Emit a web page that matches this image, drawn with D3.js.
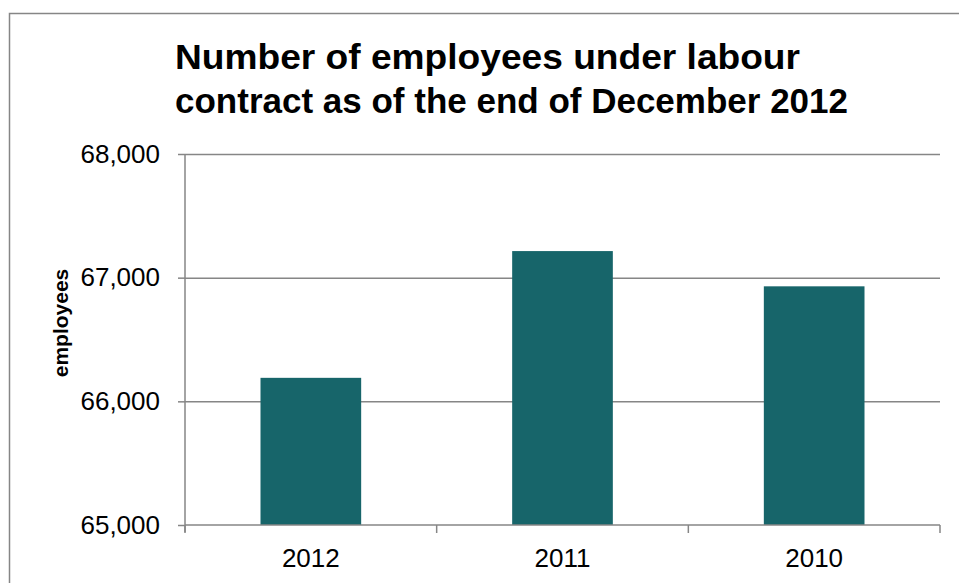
<!DOCTYPE html>
<html>
<head>
<meta charset="utf-8">
<script src="https://cdn.jsdelivr.net/npm/d3@7"></script>
<style>
  html, body { margin: 0; padding: 0; background: #fff; }
  svg { display: block; font-family: "Liberation Sans", Arial, sans-serif; }
</style>
</head>
<body>
<svg id="chart" width="959" height="583"></svg>
<script>
// Employees under labour contract, end of December
const years = ["2012", "2011", "2010"];
const employees = [66190, 67215, 66930];
const yTicks = [65000, 66000, 67000, 68000];
const titleLines = ["Number of employees under labour", "contract as of the end of December 2012"];
const yLabel = "employees";

const svg = d3.select("#chart");
const plot = { left: 185, right: 940, top: 154, bottom: 525 };
const gridColor = "#868686";
const barColor = "#17656A";

// outer chart frame (extends past the right and bottom edges)
svg.append("rect")
  .attr("x", 9.5).attr("y", 13.5)
  .attr("width", 1000).attr("height", 1000)
  .attr("fill", "#fff")
  .attr("stroke", gridColor).attr("stroke-width", 1.5);

// title
const titleWidths = [625, 673];
svg.append("g").selectAll("text").data(titleLines).join("text")
  .attr("x", 175)
  .attr("y", (d, i) => 69 + i * 44)
  .attr("font-size", 35)
  .attr("font-weight", "bold")
  .attr("fill", "#000")
  .attr("textLength", (d, i) => titleWidths[i])
  .attr("lengthAdjust", "spacingAndGlyphs")
  .text(d => d);

const x = d3.scaleBand().domain(years)
  .range([plot.left, plot.right]).paddingInner(0.6).paddingOuter(0.3);
const y = d3.scaleLinear().domain([65000, 68000]).range([plot.bottom, plot.top]);

// horizontal gridlines with tick marks
const yAxis = d3.axisLeft(y).tickValues(yTicks).tickSize(7).tickPadding(18)
  .tickFormat(d3.format(","));
const gy = svg.append("g").attr("transform", `translate(${plot.left},0)`).call(yAxis);
gy.select(".domain").remove();
gy.selectAll(".tick line").attr("stroke", gridColor).attr("stroke-width", 1.5);
gy.selectAll(".tick text")
  .attr("font-size", 26).attr("fill", "#000")
  .attr("font-family", "Liberation Sans, Arial, sans-serif");
gy.selectAll(".tick").filter(d => d !== 65000).append("line")
  .attr("x1", 0).attr("x2", plot.right - plot.left)
  .attr("stroke", gridColor).attr("stroke-width", 1.5);

// vertical axis line
svg.append("line")
  .attr("x1", plot.left).attr("x2", plot.left)
  .attr("y1", plot.top).attr("y2", plot.bottom + 7)
  .attr("stroke", gridColor).attr("stroke-width", 1.5);

// bars
svg.append("g").selectAll("rect").data(years).join("rect")
  .attr("x", d => x(d))
  .attr("width", x.bandwidth())
  .attr("y", (d, i) => y(employees[i]))
  .attr("height", (d, i) => y(65000) - y(employees[i]))
  .attr("fill", barColor);

// category axis
svg.append("line")
  .attr("x1", plot.left).attr("x2", plot.right)
  .attr("y1", plot.bottom).attr("y2", plot.bottom)
  .attr("stroke", gridColor).attr("stroke-width", 1.5);
const step = x.step();
const boundaries = years.map(d => x(d) - step * 0.3).concat([plot.right]);
svg.append("g").selectAll("line").data(boundaries).join("line")
  .attr("x1", d => d).attr("x2", d => d)
  .attr("y1", plot.bottom).attr("y2", plot.bottom + 8)
  .attr("stroke", gridColor).attr("stroke-width", 1.5);
svg.append("g").selectAll("text").data(years).join("text")
  .attr("x", d => x(d) + x.bandwidth() / 2)
  .attr("y", 567)
  .attr("text-anchor", "middle")
  .attr("font-size", 26)
  .attr("fill", "#000")
  .text(d => d);

// y-axis title
svg.append("text")
  .attr("transform", "translate(68,323) rotate(-90)")
  .attr("text-anchor", "middle")
  .attr("font-size", 21)
  .attr("font-weight", "bold")
  .attr("fill", "#000")
  .text(yLabel);
</script>
</body>
</html>
